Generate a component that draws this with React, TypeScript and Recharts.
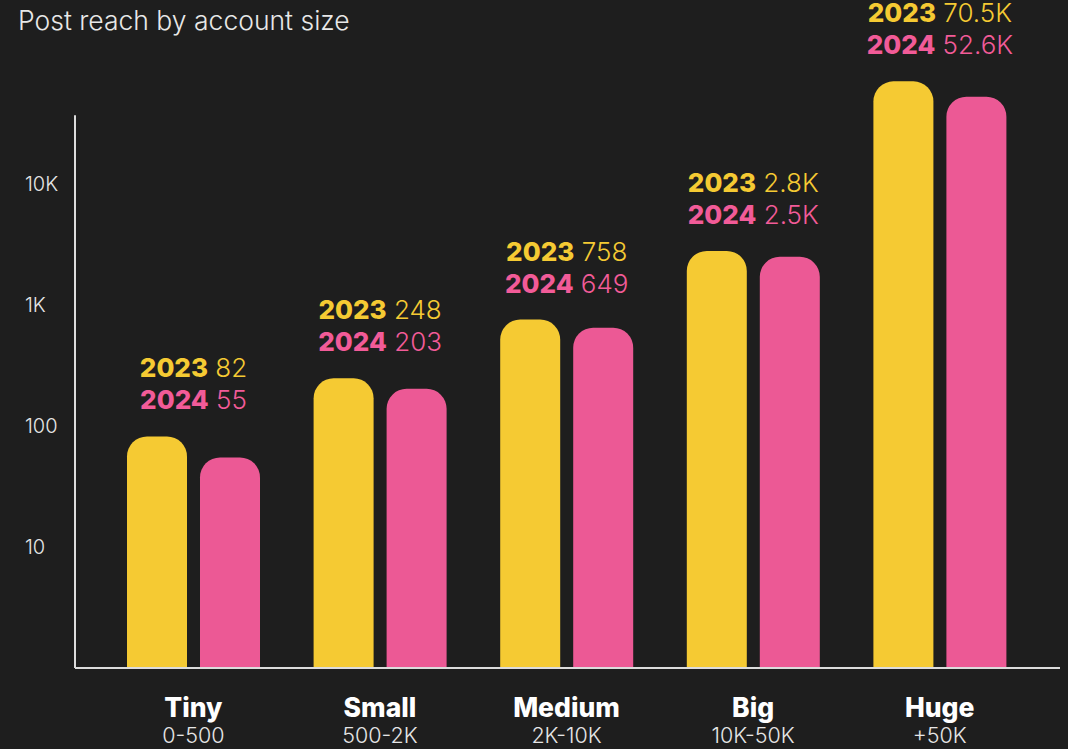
import React from 'react';
import { BarChart, Bar, XAxis, YAxis, LabelList, ReferenceLine } from 'recharts';

const categories = ['Tiny', 'Small', 'Medium', 'Big', 'Huge'];
const ranges = ['0-500', '500-2K', '2K-10K', '10K-50K', '+50K'];
const reach2023 = [82, 248, 758, 2800, 70500];
const reach2024 = [55, 203, 649, 2500, 52600];
const labels2023 = ['82', '248', '758', '2.8K', '70.5K'];
const labels2024 = ['55', '203', '649', '2.5K', '52.6K'];
const yTicks = [10, 100, 1000, 10000];
const yTickLabels = ['10', '100', '1K', '10K'];

const data = categories.map((c, i) => ({
  name: c,
  range: ranges[i],
  y2023: reach2023[i],
  y2024: reach2024[i],
  l2023: labels2023[i],
  l2024: labels2024[i],
}));

const BG = '#1e1e1e';
const YELLOW = '#f5ca33';
const PINK = '#ec5995';
const PINK_TEXT = '#f25b98';
const AXIS = '#dcdcdc';
const FONT = 'Inter, "Noto Sans", sans-serif';
const BAR_SIZE = 60;
const BAR_GAP = 13;

const YTick = (props: any) => {
  const { y, payload } = props;
  const idx = yTicks.indexOf(payload.value);
  return (
    <text x={25} y={y} dy="0.36em" textAnchor="start" fill="#e6e6e6" fontFamily={FONT} fontWeight={300} fontSize={20}>
      {idx >= 0 ? yTickLabels[idx] : payload.value}
    </text>
  );
};

const XTick = (props: any) => {
  const { x, payload } = props;
  const i = categories.indexOf(payload.value);
  return (
    <g>
      <text x={x} y={717} textAnchor="middle" fill="#ffffff" fontFamily={FONT} fontWeight={800} fontSize={26.5}>
        {payload.value}
      </text>
      <text x={x} y={743} textAnchor="middle" fill="#e6e6e6" fontFamily={FONT} fontWeight={300} fontSize={21.5}>
        {ranges[i]}
      </text>
    </g>
  );
};

const BarLabel = (props: any) => {
  const { x, y, width, index, value } = props;
  let i = typeof index === 'number' ? index : reach2023.indexOf(value);
  if (i < 0) i = 0;
  const cx = Number(x) + Number(width) + BAR_GAP / 2;
  const top = Number(y);
  return (
    <g fontFamily={FONT} fontSize={26}>
      <text x={cx} y={top - 59} textAnchor="middle">
        <tspan fill={YELLOW} fontWeight={800}>2023</tspan>
        <tspan fill={YELLOW} fontWeight={300}> {labels2023[i]}</tspan>
      </text>
      <text x={cx} y={top - 27} textAnchor="middle">
        <tspan fill={PINK_TEXT} fontWeight={800}>2024</tspan>
        <tspan fill={PINK_TEXT} fontWeight={300}> {labels2024[i]}</tspan>
      </text>
    </g>
  );
};

export default function App() {
  return (
    <div style={{ position: 'absolute', left: 0, top: 0, width: 1068, height: 749, background: BG, overflow: 'hidden' }}>
      <div
        style={{
          position: 'absolute',
          left: 18,
          top: 7,
          fontFamily: FONT,
          fontSize: 26.5,
          lineHeight: '26.5px',
          fontWeight: 300,
          color: '#e8e8e8',
          whiteSpace: 'nowrap',
        }}
      >
        Post reach by account size
      </div>
      <div style={{ position: 'absolute', left: 0, top: 0 }}>
        <BarChart
          width={1068}
          height={749}
          data={data}
          margin={{ top: 63, right: 8, left: 0, bottom: 0 }}
          barSize={BAR_SIZE}
          barGap={BAR_GAP}
        >
          <XAxis
            dataKey="name"
            axisLine={{ stroke: AXIS, strokeWidth: 2 }}
            tickLine={false}
            tick={<XTick />}
            height={81}
            interval={0}
            padding={{ left: 25, right: 27 }}
          />
          <XAxis xAxisId="ln" type="number" domain={[0, 1]} hide allowDataOverflow />
          <YAxis
            scale="log"
            domain={[1, 100000]}
            allowDataOverflow
            ticks={yTicks}
            tick={<YTick />}
            axisLine={false}
            tickLine={false}
            width={75}
          />
          <ReferenceLine
            xAxisId="ln"
            segment={[{ x: 0, y: 1 }, { x: 0, y: 37000 }]}
            stroke={AXIS}
            strokeWidth={2}
            ifOverflow="visible"
          />
          <Bar dataKey="y2023" fill={YELLOW} radius={[20, 20, 0, 0]} isAnimationActive={false}>
            <LabelList dataKey="y2023" content={<BarLabel />} />
          </Bar>
          <Bar dataKey="y2024" fill={PINK} radius={[20, 20, 0, 0]} isAnimationActive={false} />
        </BarChart>
      </div>
    </div>
  );
}
